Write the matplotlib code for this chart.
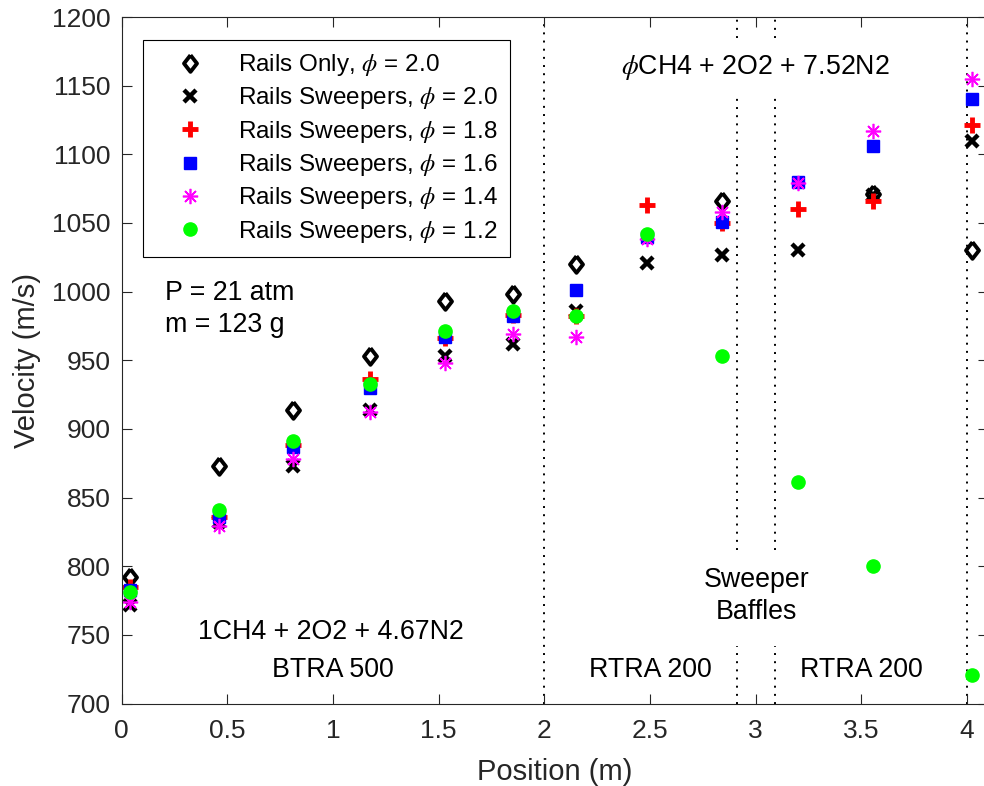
import numpy as np
import matplotlib.pyplot as plt

plt.rcParams['font.family'] = ['Liberation Sans', 'DejaVu Sans']
plt.rcParams['mathtext.fontset'] = 'stix'

# positions along the tube (m)
pos = [0.04, 0.46, 0.81, 1.175, 1.53, 1.85, 2.15, 2.485, 2.84, 3.2, 3.555, 4.025]

# rails only, phi = 2.0 (no reading at 2.485 and 3.2)
pos_rails = [0.04, 0.46, 0.81, 1.175, 1.53, 1.85, 2.15, 2.84, 3.555, 4.025]
v_rails_20 = [792, 873, 914, 953, 993, 998, 1020, 1066, 1071, 1030]

# rails + sweepers
v_sw_20 = [772, 832, 873, 914, 953, 962, 986, 1021, 1027, 1030, 1070, 1110]
v_sw_18 = [785, 836, 888, 936, 966, 983, 982, 1063, 1050, 1060, 1066, 1121]
v_sw_16 = [783, 836, 887, 930, 967, 982, 1001, 1040, 1051, 1080, 1106, 1140]
v_sw_14 = [774, 829, 878, 912, 948, 969, 967, 1038, 1058, 1079, 1117, 1155]
v_sw_12 = [781, 841, 891, 933, 971, 986, 982, 1042, 953, 861, 800, 721]

labels = ['Rails Only, $\\phi$ = 2.0',
          'Rails Sweepers, $\\phi$ = 2.0',
          'Rails Sweepers, $\\phi$ = 1.8',
          'Rails Sweepers, $\\phi$ = 1.6',
          'Rails Sweepers, $\\phi$ = 1.4',
          'Rails Sweepers, $\\phi$ = 1.2']

# section boundaries
full_lines = [2.0, 4.0]
baffle_lines = [2.913, 3.093]
baffle_segments = [(700, 742), (812, 1145), (1185, 1200)]

xmax = 4.1
fig = plt.figure(figsize=(9.84, 7.86), dpi=100)
ax = fig.add_axes([121.5 / 984, 82.5 / 786, xmax * 211.4 / 984, 686.5 / 786])

dot = (0, (1, 3.2))
for xl in full_lines:
    ax.axvline(xl, color='k', lw=1.4, ls=dot, zorder=1)
for xl in baffle_lines:
    for lo, hi in baffle_segments:
        ax.plot([xl, xl], [lo, hi], color='k', lw=1.4, ls=dot, zorder=1)

diamond = [(0, 1), (0.78, 0), (0, -1), (-0.78, 0), (0, 1)]
ax.plot(pos_rails, v_rails_20, ls='none', marker=diamond, ms=12, mfc='white',
        mec='k', mew=2.8, label=labels[0])
ax.plot(pos, v_sw_20, ls='none', marker='x', ms=8, mec='k', mew=3.2, label=labels[1])
ax.plot(pos, v_sw_18, ls='none', marker='+', ms=11, mec='r', mew=3.5, label=labels[2])
ax.plot(pos, v_sw_16, ls='none', marker='s', ms=8.5, mfc='b', mec='b', label=labels[3])
ax.plot(pos, v_sw_14, ls='none', marker=(8, 2, 0), ms=11, mec='#ff00ff', mew=1.2,
        label=labels[4])
ax.plot(pos, v_sw_12, ls='none', marker='o', ms=9.5, mfc='#00ff00', mec='#00ff00',
        label=labels[5])

ax.set_xlim(0, xmax)
ax.set_ylim(700, 1200)
ax.set_xticks(np.arange(0, 4.01, 0.5))
ax.set_xticklabels(['0', '0.5', '1', '1.5', '2', '2.5', '3', '3.5', '4'])
ax.set_yticks(np.arange(700, 1201, 50))

gray = '#262626'
ax.tick_params(direction='in', length=7, width=0.8, labelsize=19, colors=gray,
               top=True, right=True)
ax.tick_params(axis='x', pad=11)
ax.tick_params(axis='y', pad=8)
for s in ax.spines.values():
    s.set_color(gray)
    s.set_linewidth(0.8)

ax.set_xlabel('Position (m)', fontsize=21, color=gray, labelpad=11)
ax.set_ylabel('Velocity (m/s)', fontsize=21, color=gray, labelpad=8)

fs = 19.3
ax.text(3.0, 1163, '$\\phi$CH4 + 2O2 + 7.52N2', fontsize=fs, ha='center', va='center')
ax.text(0.99, 752, '1CH4 + 2O2 + 4.67N2', fontsize=fs, ha='center', va='center')
ax.text(1.0, 724.5, 'BTRA 500', fontsize=fs, ha='center', va='center')
ax.text(2.5, 724.5, 'RTRA 200', fontsize=fs, ha='center', va='center')
ax.text(3.5, 724.5, 'RTRA 200', fontsize=fs, ha='center', va='center')
ax.text(3.005, 778, 'Sweeper\nBaffles', fontsize=fs, ha='center', va='center',
        linespacing=1.3)
ax.text(0.205, 987.5, 'P = 21 atm\nm = 123 g', fontsize=fs, ha='left', va='center',
        linespacing=1.3)

ax_w = xmax * 211.4
leg = ax.legend(loc='upper left', bbox_to_anchor=((143 - 121.5) / ax_w, 0.9665),
                borderaxespad=0, fontsize=17.5, fancybox=False, edgecolor='k',
                framealpha=1, labelspacing=0.3, handlelength=2.87, handletextpad=0.54,
                borderpad=0.5, numpoints=1)
leg.get_frame().set_linewidth(0.8)

fig.savefig('out.png', dpi=100)
